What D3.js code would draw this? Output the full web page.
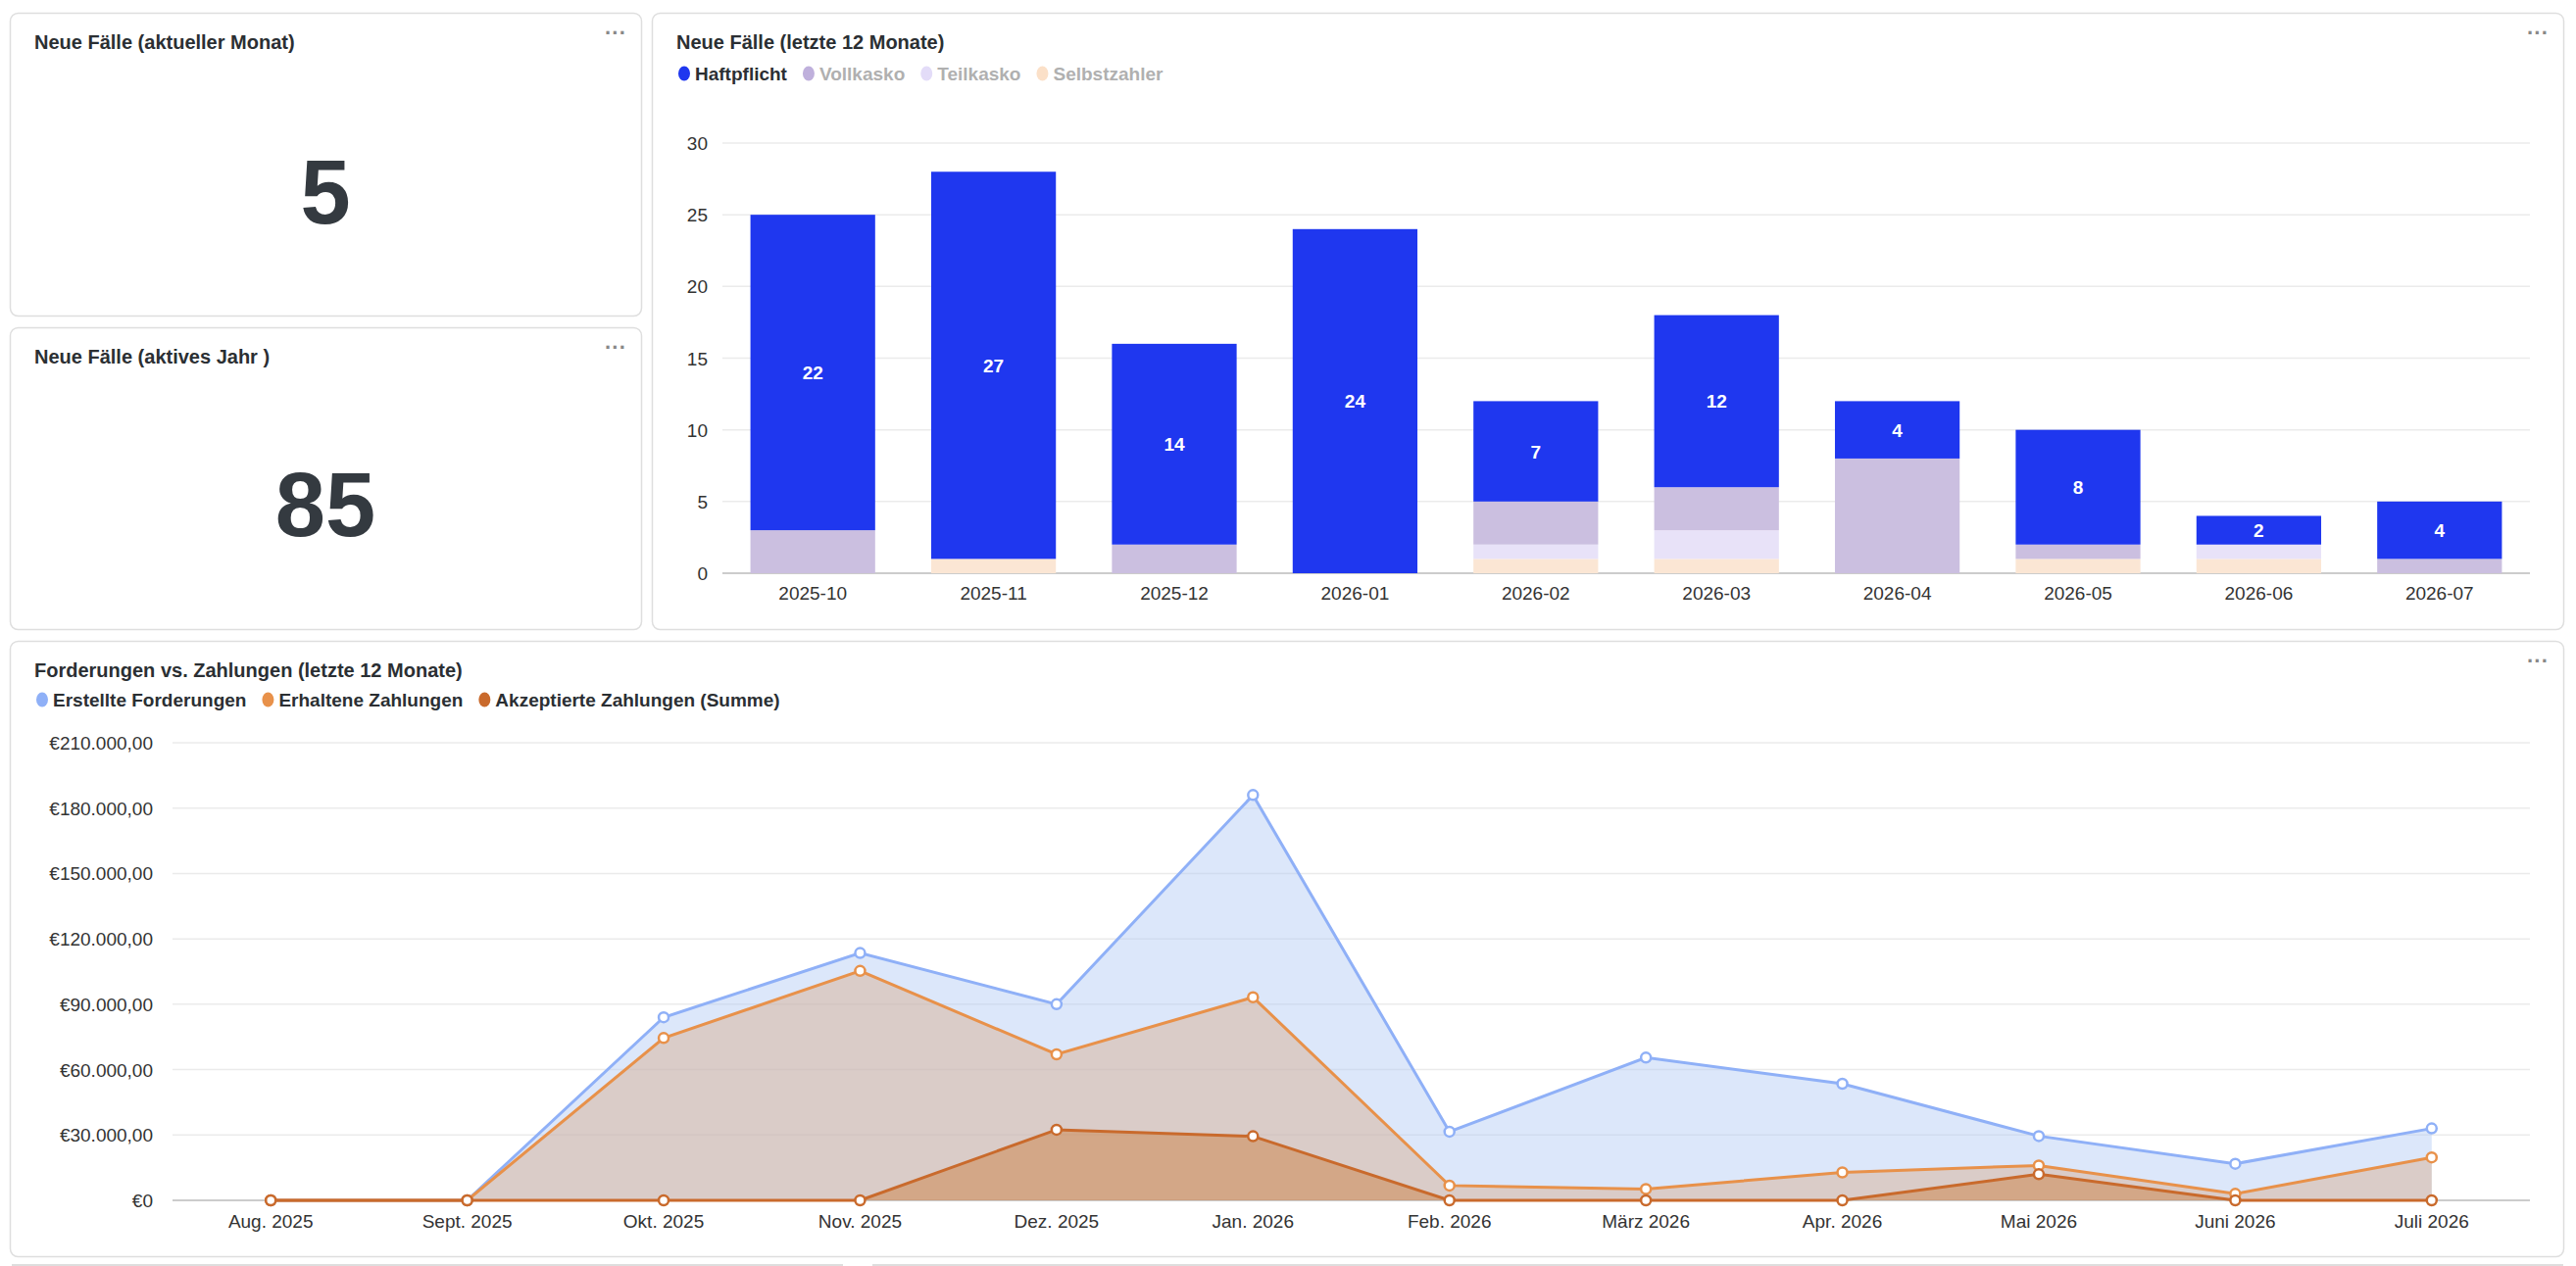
<!DOCTYPE html>
<html><head><meta charset="utf-8">
<script src="https://cdn.jsdelivr.net/npm/d3@7"></script>
<style>
body{margin:0;background:#fff;font-family:"Liberation Sans",Arial,sans-serif;}
</style></head>
<body><svg id="c" width="2628" height="1292"></svg>
<script>
// bar chart data
const months = ["2025-10","2025-11","2025-12","2026-01","2026-02","2026-03","2026-04","2026-05","2026-06","2026-07"];
const haftpflicht = [22,27,14,24,7,12,4,8,2,4];
const vollkasko =   [3,0,2,0,3,3,8,1,0,1];
const teilkasko =   [0,0,0,0,1,2,0,0,1,0];
const selbstzahler =[0,1,0,0,1,1,0,1,1,0];
const barTicks = [0,5,10,15,20,25,30];

// line chart data
const lineMonths = ["Aug. 2025","Sept. 2025","Okt. 2025","Nov. 2025","Dez. 2025","Jan. 2026","Feb. 2026","März 2026","Apr. 2026","Mai 2026","Juni 2026","Juli 2026"];
const forderungen = [0,0,84000,113500,90000,186000,31500,65500,53500,29500,16800,33000];
const erhalten =    [0,0,74500,105300,67000,93200,6800,5200,12800,16000,3000,19700];
const akzeptiert =  [0,0,0,0,32400,29400,0,0,0,12000,0,0];
const lineTicks = [0,30000,60000,90000,120000,150000,180000,210000];

const svg = d3.select("#c");
const FONT = '"Liberation Sans",Arial,sans-serif';

function card(x,y,w,h,title){
  svg.append("rect").attr("x",x+.5).attr("y",y+.5).attr("width",w).attr("height",h)
    .attr("rx",8).attr("fill","#fff").attr("stroke","#dedede").attr("stroke-width",1.5);
  svg.append("text").attr("x",x+25).attr("y",y+37).text(title)
    .attr("font-size",20).attr("font-weight","bold").attr("fill","#2b2f33");
  svg.append("text").attr("x",x+w-37).attr("y",y+28).text("···")
    .attr("font-size",22).attr("fill","#888").attr("font-weight","bold");
}

card(10,13,644,309,"Neue Fälle (aktueller Monat)");
card(10,334,644,308,"Neue Fälle (aktives Jahr )");
card(665,13,1950,629,"Neue Fälle (letzte 12 Monate)");
card(10,654,2605,628,"Forderungen vs. Zahlungen (letzte 12 Monate)");
// partial cards peeking at the bottom
svg.append("line").attr("x1",12).attr("x2",860).attr("y1",1291).attr("y2",1291).attr("stroke","#dedede").attr("stroke-width",2);
svg.append("line").attr("x1",890).attr("x2",2615).attr("y1",1291).attr("y2",1291).attr("stroke","#dedede").attr("stroke-width",2);

svg.append("text").attr("x",332).attr("y",228).attr("text-anchor","middle").text("5")
  .attr("font-size",92).attr("font-weight","bold").attr("fill","#343a40");
svg.append("text").attr("x",332).attr("y",547).attr("text-anchor","middle").text("85")
  .attr("font-size",92).attr("font-weight","bold").attr("fill","#343a40");

// ---------- stacked bar chart ----------
const barColors = {selbstzahler:"#fbe6d4",teilkasko:"#e8e2f8",vollkasko:"#cbbfe0",haftpflicht:"#1f37ef"};
const keys = ["selbstzahler","teilkasko","vollkasko","haftpflicht"];
const rows = months.map((m,i)=>({month:m,haftpflicht:haftpflicht[i],vollkasko:vollkasko[i],teilkasko:teilkasko[i],selbstzahler:selbstzahler[i]}));
const stack = d3.stack().keys(keys)(rows);

const bx = d3.scaleBand().domain(months).range([737,2581]).paddingInner(0.31).paddingOuter(0.155);
const by = d3.scaleLinear().domain([0,30]).range([585,146]);
const bg = svg.append("g");
bg.selectAll("line.g").data(barTicks).join("line")
  .attr("x1",737).attr("x2",2581).attr("y1",d=>by(d)).attr("y2",d=>by(d))
  .attr("stroke",d=>d===0?"#ccc":"#ebebeb").attr("stroke-width",d=>d===0?2:1.5);
bg.selectAll("text.t").data(barTicks).join("text")
  .attr("x",722).attr("y",d=>by(d)+7).attr("text-anchor","end").text(d=>d)
  .attr("font-size",19).attr("fill","#333");
stack.forEach(s=>{
  bg.append("g").selectAll("rect").data(s).join("rect")
    .attr("x",d=>bx(d.data.month)).attr("width",bx.bandwidth())
    .attr("y",d=>by(d[1])).attr("height",d=>by(d[0])-by(d[1]))
    .attr("fill",barColors[s.key]);
});
const hs = stack[3];
bg.selectAll("text.v").data(hs).join("text")
  .attr("x",d=>bx(d.data.month)+bx.bandwidth()/2).attr("y",d=>(by(d[0])+by(d[1]))/2+7)
  .attr("text-anchor","middle").text(d=>d[1]-d[0])
  .attr("font-size",19).attr("font-weight","bold").attr("fill","#fff");
bg.selectAll("text.x").data(months).join("text")
  .attr("x",d=>bx(d)+bx.bandwidth()/2).attr("y",612).attr("text-anchor","middle").text(d=>d)
  .attr("font-size",19).attr("fill","#333");

function legend(x,y,items){
  let cx=x;
  items.forEach(it=>{
    svg.append("ellipse").attr("cx",cx+6).attr("cy",y-7).attr("rx",6).attr("ry",7.5).attr("fill",it.c);
    const t=svg.append("text").attr("x",cx+17).attr("y",y).text(it.t)
      .attr("font-size",19).attr("font-weight","bold").attr("fill",it.tc);
    cx += 17 + t.node().getComputedTextLength() + 16;
  });
}
legend(692,82,[
  {t:"Haftpflicht",c:"#1f37ef",tc:"#2b2f33"},
  {t:"Vollkasko",c:"#bfb0dc",tc:"#b0b0b0"},
  {t:"Teilkasko",c:"#e3dcf8",tc:"#b0b0b0"},
  {t:"Selbstzahler",c:"#fbe0c8",tc:"#b0b0b0"}]);

// ---------- area/line chart ----------
const lx = d3.scalePoint().domain(lineMonths).range([176,2581]).padding(0.5);
const ly = d3.scaleLinear().domain([0,210000]).range([1225,758]);
const lg = svg.append("g");
const eur = v => "€" + (v===0 ? "0" : d3.format(",.2f")(v).replace(/,/g,"#").replace(".",",").replace(/#/g,"."));
lg.selectAll("line.g").data(lineTicks).join("line")
  .attr("x1",176).attr("x2",2581).attr("y1",d=>ly(d)).attr("y2",d=>ly(d))
  .attr("stroke",d=>d===0?"#ccc":"#ebebeb").attr("stroke-width",d=>d===0?2:1.5);
lg.selectAll("text.t").data(lineTicks).join("text")
  .attr("x",156).attr("y",d=>ly(d)+7).attr("text-anchor","end").text(eur)
  .attr("font-size",19).attr("fill","#333");
lg.selectAll("text.x").data(lineMonths).join("text")
  .attr("x",d=>lx(d)).attr("y",1253).attr("text-anchor","middle").text(d=>d)
  .attr("font-size",19).attr("fill","#333");

const series = [
  {v:forderungen,line:"#8fb0f7",fill:"rgba(178,202,245,0.45)"},
  {v:erhalten,line:"#e8914a",fill:"rgba(214,170,140,0.45)"},
  {v:akzeptiert,line:"#c96a2c",fill:"rgba(204,130,70,0.5)"}
];
series.forEach(s=>{
  const pts = lineMonths.map((m,i)=>[m,s.v[i]]);
  lg.append("path").datum(pts).attr("fill",s.fill)
    .attr("d",d3.area().x(d=>lx(d[0])).y0(ly(0)).y1(d=>ly(d[1])));
});
series.forEach(s=>{
  const pts = lineMonths.map((m,i)=>[m,s.v[i]]);
  lg.append("path").datum(pts).attr("fill","none").attr("stroke",s.line).attr("stroke-width",3)
    .attr("d",d3.line().x(d=>lx(d[0])).y(d=>ly(d[1])));
  lg.append("g").selectAll("circle").data(pts).join("circle")
    .attr("cx",d=>lx(d[0])).attr("cy",d=>ly(d[1])).attr("r",5)
    .attr("fill","#fff").attr("stroke",s.line).attr("stroke-width",2.5);
});
legend(37,721,[
  {t:"Erstellte Forderungen",c:"#8fb0f7",tc:"#2b2f33"},
  {t:"Erhaltene Zahlungen",c:"#e8914a",tc:"#2b2f33"},
  {t:"Akzeptierte Zahlungen (Summe)",c:"#c96a2c",tc:"#2b2f33"}]);
</script></body></html>
